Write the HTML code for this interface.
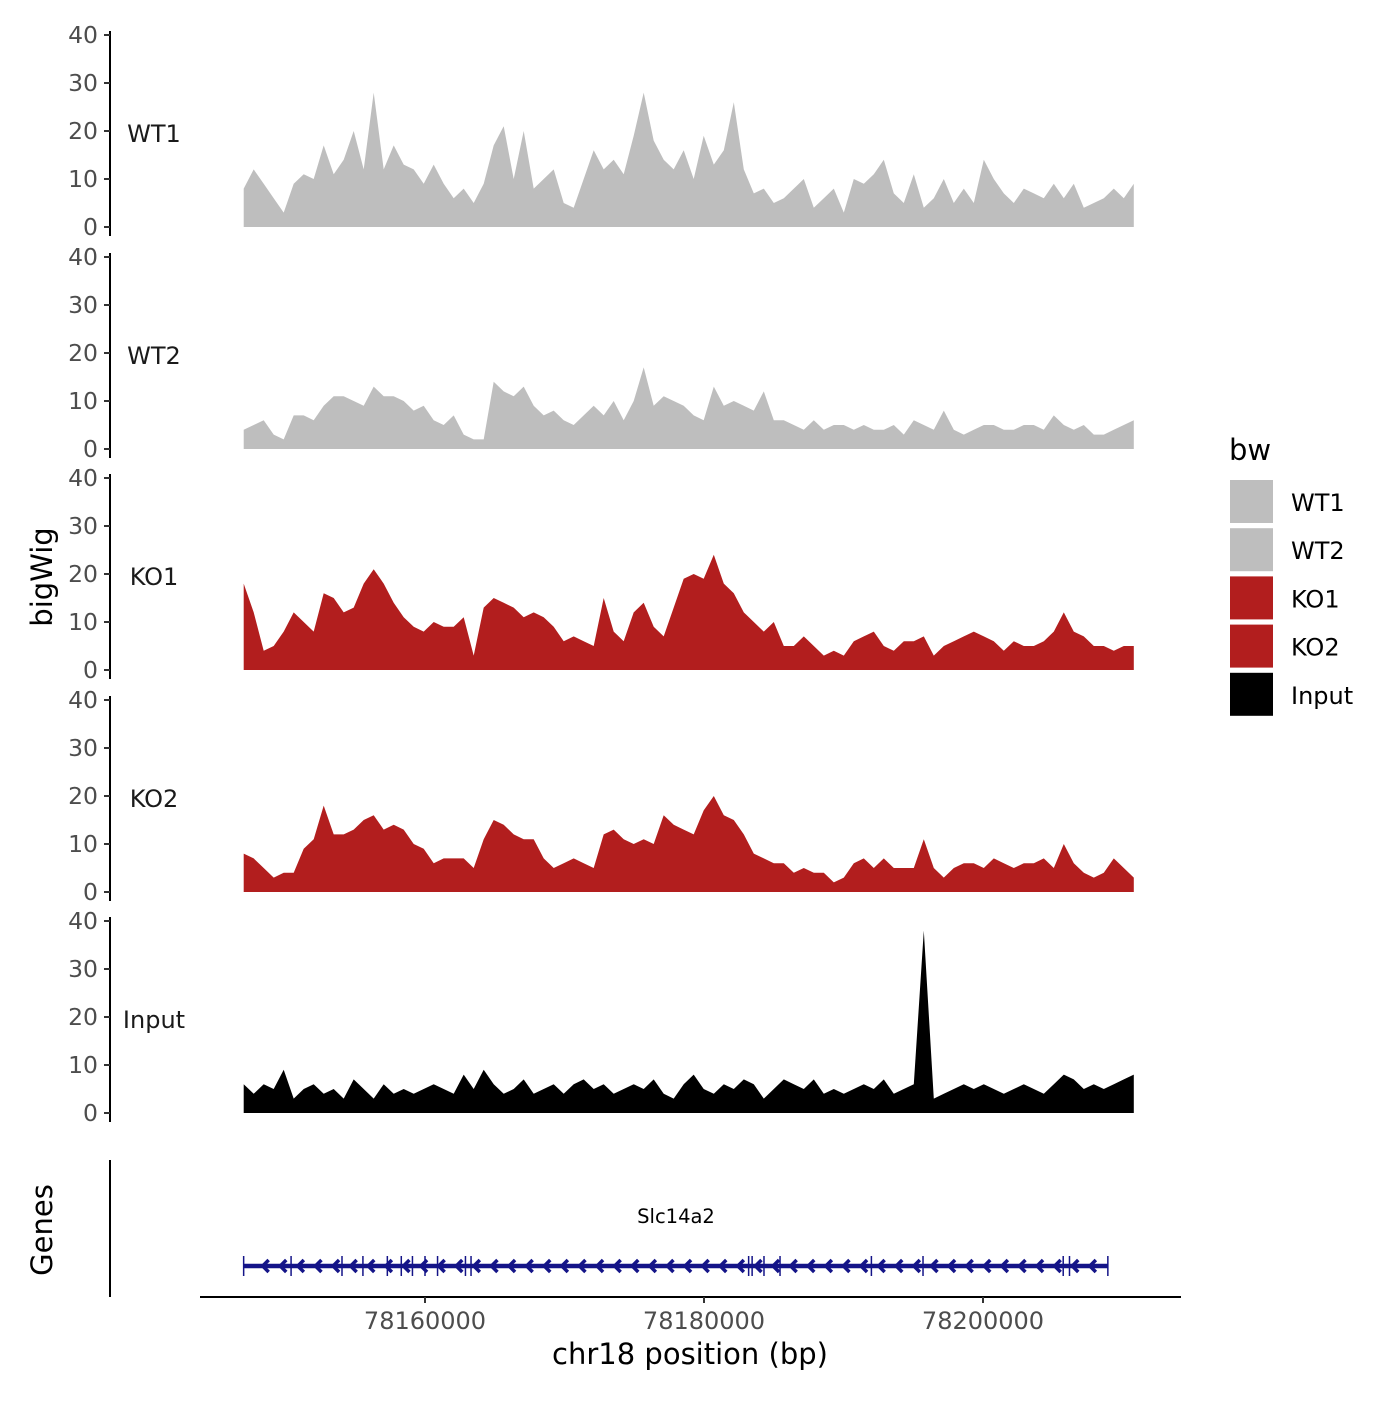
<!DOCTYPE html>
<html><head><meta charset="utf-8"><style>
body{margin:0;background:#fff}
svg text{font-family:"DejaVu Sans","Liberation Sans",sans-serif}
</style></head><body>
<svg id="chart" width="1400" height="1400" viewBox="0 0 1400 1400" xmlns="http://www.w3.org/2000/svg">
<g id="tracks"></g>
<g id="genes"></g>
<g id="xaxis"></g>
<text x="0" y="0" transform="translate(52,577) rotate(-90)" text-anchor="middle" font-size="29">bigWig</text>
<text x="0" y="0" transform="translate(52,1230) rotate(-90)" text-anchor="middle" font-size="29">Genes</text>
<text x="690" y="1364" text-anchor="middle" font-size="29">chr18 position (bp)</text>
<g id="legend"></g>
</svg>
<script>
const trackNames = ["WT1","WT2","KO1","KO2","Input"];
const trackColors = ["#bebebe","#bebebe","#b21e1e","#b21e1e","#000000"];
const wt1 = [8,12,9,6,3,9,11,10,17,11,14,20,12,28,12,17,13,12,9,13,9,6,8,5,9,17,21,10,20,8,10,12,5,4,10,16,12,14,11,19,28,18,14,12,16,10,19,13,16,26,12,7,8,5,6,8,10,4,6,8,3,10,9,11,14,7,5,11,4,6,10,5,8,5,14,10,7,5,8,7,6,9,6,9,4,5,6,8,6,9];
const wt2 = [4,5,6,3,2,7,7,6,9,11,11,10,9,13,11,11,10,8,9,6,5,7,3,2,2,14,12,11,13,9,7,8,6,5,7,9,7,10,6,10,17,9,11,10,9,7,6,13,9,10,9,8,12,6,6,5,4,6,4,5,5,4,5,4,4,5,3,6,5,4,8,4,3,4,5,5,4,4,5,5,4,7,5,4,5,3,3,4,5,6];
const ko1 = [18,12,4,5,8,12,10,8,16,15,12,13,18,21,18,14,11,9,8,10,9,9,11,3,13,15,14,13,11,12,11,9,6,7,6,5,15,8,6,12,14,9,7,13,19,20,19,24,18,16,12,10,8,10,5,5,7,5,3,4,3,6,7,8,5,4,6,6,7,3,5,6,7,8,7,6,4,6,5,5,6,8,12,8,7,5,5,4,5,5];
const ko2 = [8,7,5,3,4,4,9,11,18,12,12,13,15,16,13,14,13,10,9,6,7,7,7,5,11,15,14,12,11,11,7,5,6,7,6,5,12,13,11,10,11,10,16,14,13,12,17,20,16,15,12,8,7,6,6,4,5,4,4,2,3,6,7,5,7,5,5,5,11,5,3,5,6,6,5,7,6,5,6,6,7,5,10,6,4,3,4,7,5,3];
const input = [6,4,6,5,9,3,5,6,4,5,3,7,5,3,6,4,5,4,5,6,5,4,8,5,9,6,4,5,7,4,5,6,4,6,7,5,6,4,5,6,5,7,4,3,6,8,5,4,6,5,7,6,3,5,7,6,5,7,4,5,4,5,6,5,7,4,5,6,38,3,4,5,6,5,6,5,4,5,6,5,4,6,8,7,5,6,5,6,7,8];
const series = [wt1,wt2,ko1,ko2,input];
const yTicks = [0,10,20,30,40];
const xTicks = [78160000,78180000,78200000];
const binStart = 78147000;
const binSize = 717;
const exons = [78147000,78150400,78154050,78155550,78157300,78158300,78159100,78160000,78160900,78162900,78163300,78183200,78183450,78184300,78185450,78192000,78195700,78205750,78206200,78208950];
const geneStart = 78147000, geneEnd = 78208950;

const NS="http://www.w3.org/2000/svg";
const xScale = bp => 425 + (bp-78160000)*279/20000;
const panelZero = [227,449,670,892,1113];
const yScale = (v,i) => panelZero[i] - v*4.8;
function mk(tag,attrs,parent){const e=document.createElementNS(NS,tag);for(const k in attrs)e.setAttribute(k,attrs[k]);parent.appendChild(e);return e;}

const tracks=document.getElementById('tracks');
series.forEach((vals,i)=>{
  const g=mk('g',{},tracks);
  
  
  let d='M'+xScale(binStart).toFixed(1)+','+panelZero[i];
  vals.forEach((v,j)=>{d+=' L'+xScale(binStart+j*binSize).toFixed(1)+','+yScale(v,i).toFixed(1);});
  d+=' L'+xScale(binStart+(vals.length-1)*binSize).toFixed(1)+','+panelZero[i]+' Z';
  const p=mk('path',{d:d,fill:trackColors[i]},g);
  
  
  const ax=mk('line',{x1:110,x2:110,y1:yScale(40,i)-4,y2:panelZero[i]+9,stroke:'#000','stroke-width':2},g);
  
  
  yTicks.forEach(t=>{
    const y=yScale(t,i);
    const tl=mk('line',{x1:104,x2:110,y1:y,y2:y,stroke:'#333','stroke-width':2},g);
    
    
    const tx=mk('text',{x:98,y:y+8,'text-anchor':'end','font-size':23.5,fill:'#4d4d4d'},g);
    tx.textContent=t;
    
    
  });
  const lb=mk('text',{x:154,y:yScale(20,i)+11,'text-anchor':'middle','font-size':24,fill:'#1a1a1a'},g);
  lb.textContent=trackNames[i];
  
  
});

// genes
const gg=document.getElementById('genes');
const gc='#141488';
const ga=mk('line',{x1:110,x2:110,y1:1160,y2:1297,stroke:'#000','stroke-width':2},gg);


const gl=mk('line',{x1:xScale(geneStart),x2:xScale(geneEnd),y1:1266,y2:1266,stroke:gc,'stroke-width':4.5},gg);


for(let x=xScale(geneStart)+20;x<xScale(geneEnd)-4;x+=17.6){
  const c=mk('path',{d:`M${x+5},${1260} L${x-1},${1266} L${x+5},${1272}`,fill:'none',stroke:gc,'stroke-width':3.5},gg);
  
  
}
exons.forEach(b=>{
  const x=xScale(b);
  const e=mk('line',{x1:x,x2:x,y1:1256,y2:1276,stroke:gc,'stroke-width':1.5},gg);
  
  
});
const gt=mk('text',{x:676,y:1223,'text-anchor':'middle','font-size':19.5},gg);
gt.textContent='Slc14a2';



// x axis
const xa=document.getElementById('xaxis');
const xl=mk('line',{x1:200,x2:1181,y1:1297,y2:1297,stroke:'#000','stroke-width':2},xa);


xTicks.forEach(t=>{
  const x=xScale(t);
  const tk=mk('line',{x1:x,x2:x,y1:1297,y2:1303,stroke:'#333','stroke-width':2},xa);
  
  
  const tx=mk('text',{x:x,y:1329,'text-anchor':'middle','font-size':24,fill:'#4d4d4d'},xa);
  tx.textContent=t;
  
  
});

// legend
const lg=document.getElementById('legend');
const lt=mk('text',{x:1229,y:460,'font-size':29},lg);
lt.textContent='bw';


trackNames.forEach((n,i)=>{
  const y=480+i*48.2;
  const r=mk('rect',{x:1230,y:y,width:43,height:43,fill:trackColors[i]},lg);
  
  
  const t=mk('text',{x:1291,y:y+31,'font-size':24},lg);
  t.textContent=n;
  
  
});
</script>
</body></html>
